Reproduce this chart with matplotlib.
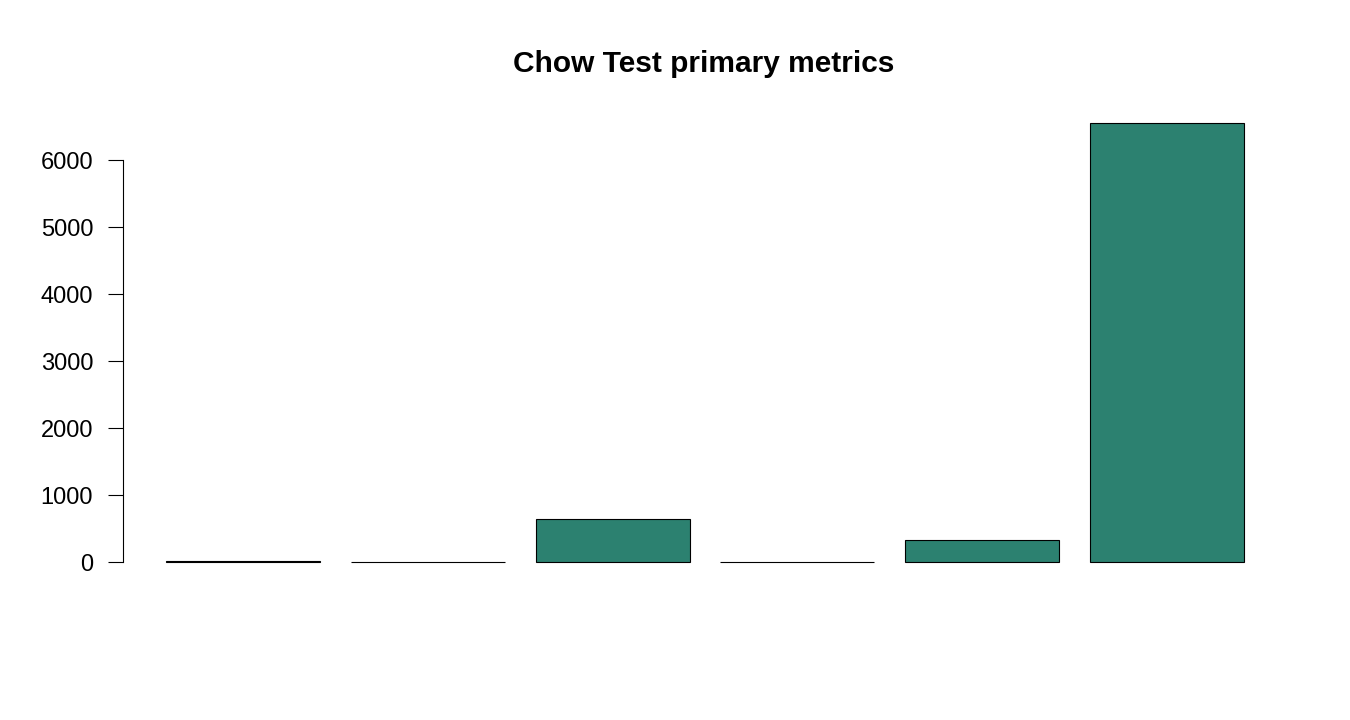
import matplotlib.pyplot as plt
import numpy as np

plt.rcParams['font.family'] = ['Liberation Sans', 'DejaVu Sans']

# values (R-style barplot, no names)
values = [20, 1.5, 642, 1.5, 328, 6552]
yticks = [0, 1000, 2000, 3000, 4000, 5000, 6000]
bar_color = '#2C8170'

fig = plt.figure(figsize=(13.5, 7.2), dpi=100)
ax = fig.add_axes([0.0911, 0.195, 0.9533 - 0.0911, 0.8535 - 0.195])

# R barplot geometry: width 1, space 0.2
lefts = 0.2 + 1.2 * np.arange(len(values))
ax.bar(lefts, values, width=1.0, align='edge', color=bar_color,
       edgecolor='black', linewidth=0.8)

top = max(values)
ax.set_xlim(-0.04 * 7 + 0.2, 7.2 + 0.04 * 7)
ax.set_ylim(-0.04 * top, top * 1.04)

for s in ['top', 'right', 'bottom']:
    ax.spines[s].set_visible(False)
ax.spines['left'].set_bounds(0, 6000)
ax.spines['left'].set_linewidth(0.8)
ax.set_xticks([])
ax.set_yticks(yticks)
ax.set_yticklabels([str(t) for t in yticks])
ax.tick_params(axis='y', length=10.8, width=0.8, pad=10.7, labelsize=17)

fig.text(0.5211, 1 - 64 / 720, 'Chow Test primary metrics', ha='center',
         va='center', fontsize=21.5, fontweight='bold')

fig.savefig('out.png', dpi=100)
